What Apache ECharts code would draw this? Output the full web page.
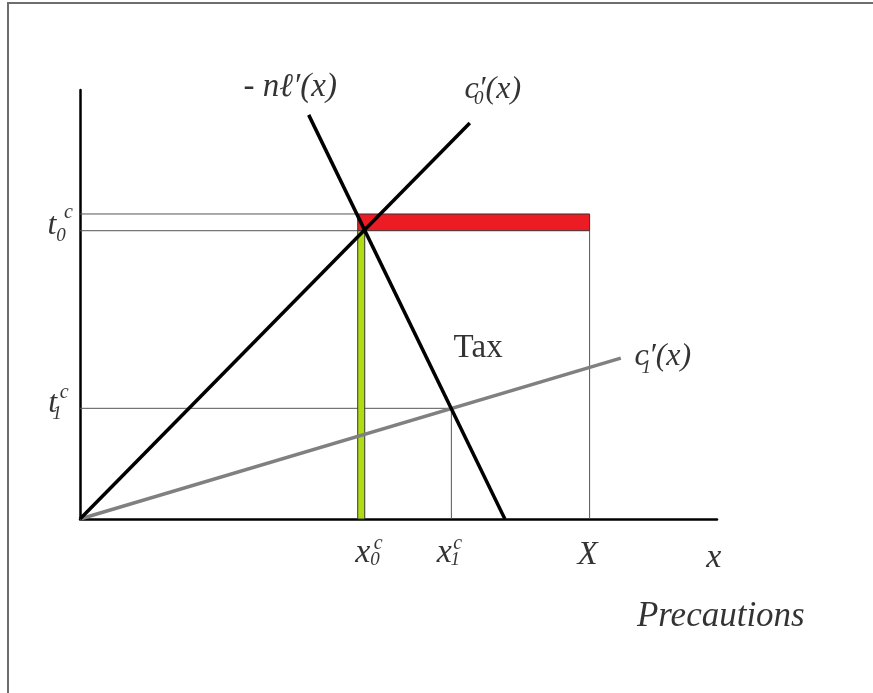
<!DOCTYPE html>
<html>
<head>
<meta charset="utf-8">
<script src="https://cdn.jsdelivr.net/npm/echarts@6/dist/echarts.min.js"></script>
<style>
  html, body { margin: 0; padding: 0; background: #fff; }
  #chart { width: 873px; height: 693px; }
</style>
</head>
<body>
<div id="chart"></div>
<script>
// curves, in diagram units (x: 0..10, y: 0..10)
const c0Line = [[0, 0], [6.12, 9.23]];
const nlLine = [[3.59, 9.42], [6.67, 0]];
const c1Line = [[0, 0], [8.49, 3.75]];

// key levels
const t0 = 6.72;
const t0Top = 7.11;
const x0Left = 4.36;
const x0 = 4.47;
const x1 = 5.83;
const t1 = 2.58;
const bigX = 8;

// rectangles: [xFrom, yFrom, xTo, yTo]
const taxRect = [x0Left, t0, bigX, t0Top];
const greenRect = [x0Left, 0, x0, t0];

// thin guide lines
const guides = [
  [[0, t0Top], [x0Left, t0Top]],
  [[0, t0], [x0Left, t0]],
  [[0, t1], [x1, t1]],
  [[x1, 0], [x1, t1]],
  [[bigX, 0], [bigX, t0]]
];

const SERIF = '"Liberation Serif", "DejaVu Serif", serif';

// text labels: [x, y, text, fontSize, italic]
const texts = [
  [3.30, 10.07, '- nℓ′(x)', 33, true],
  [6.48, 10.02, 'c′(x)', 32, true],
  [6.26, 9.78, '0', 19, true],
  [9.15, 3.78, 'c′(x)', 32, true],
  [8.89, 3.53, '1', 19, true],
  [6.25, 3.99, 'Tax', 33, false],
  [-0.44, 6.85, 't', 32, true],
  [-0.18, 7.13, 'c', 20, true],
  [-0.30, 6.60, '0', 19, true],
  [-0.43, 2.70, 't', 32, true],
  [-0.25, 2.94, 'c', 20, true],
  [-0.36, 2.45, '1', 19, true],
  [4.44, -0.80, 'x', 34, true],
  [4.68, -0.58, 'c', 20, true],
  [4.63, -0.96, '0', 19, true],
  [5.72, -0.80, 'x', 34, true],
  [5.93, -0.58, 'c', 20, true],
  [5.89, -0.96, '1', 19, true],
  [7.97, -0.84, 'X', 33, true],
  [9.95, -0.92, 'x', 34, true],
  [10.06, -2.28, 'Precautions', 35, true]
];

const chart = echarts.init(document.getElementById('chart'));

const lineSeries = (data, color, width, z) => ({
  type: 'line',
  data: data,
  symbol: 'none',
  silent: true,
  z: z,
  lineStyle: { color: color, width: width, cap: 'butt' }
});

const series = [];

guides.forEach(g => series.push(lineSeries(g, '#555', 1, 2)));

series.push({
  type: 'custom',
  z: 3,
  silent: true,
  data: [taxRect.concat(0), greenRect.concat(1)],
  renderItem: (params, api) => {
    const p0 = api.coord([api.value(0), api.value(1)]);
    const p1 = api.coord([api.value(2), api.value(3)]);
    const isGreen = api.value(4) === 1;
    return {
      type: 'rect',
      shape: {
        x: Math.min(p0[0], p1[0]),
        y: Math.min(p0[1], p1[1]),
        width: Math.abs(p1[0] - p0[0]),
        height: Math.abs(p1[1] - p0[1])
      },
      style: {
        fill: isGreen ? '#b0dc14' : '#ed1c24',
        stroke: '#333',
        lineWidth: 1
      }
    };
  }
});

series.push(lineSeries(c1Line, '#808080', 3.5, 4));
series.push(lineSeries(c0Line, '#000', 3.5, 5));
series.push(lineSeries(nlLine, '#000', 3.5, 5));

series.push({
  type: 'scatter',
  symbolSize: 0,
  silent: true,
  clip: false,
  z: 6,
  data: texts.map(t => ({
    value: [t[0], t[1]],
    label: {
      show: true,
      position: 'inside',
      formatter: t[2],
      fontFamily: SERIF,
      fontSize: t[3],
      fontStyle: t[4] ? 'italic' : 'normal',
      color: '#000',
      textBorderWidth: 0,
      align: 'center',
      verticalAlign: 'middle'
    }
  }))
});

chart.setOption({
  animation: false,
  backgroundColor: '#fff',
  grid: { left: 80, top: 90, width: 637, height: 429 },
  xAxis: {
    type: 'value',
    min: 0,
    max: 10,
    axisLine: { show: true, onZero: false, lineStyle: { color: '#000', width: 2.5 } },
    axisTick: { show: false },
    axisLabel: { show: false },
    splitLine: { show: false }
  },
  yAxis: {
    type: 'value',
    min: 0,
    max: 10,
    axisLine: { show: true, onZero: false, lineStyle: { color: '#000', width: 2.5 } },
    axisTick: { show: false },
    axisLabel: { show: false },
    splitLine: { show: false }
  },
  graphic: [{
    type: 'polyline',
    shape: { points: [[8, 693], [8, 3], [873, 3]] },
    style: { stroke: '#6d6d6d', lineWidth: 2, fill: null }
  }],
  series: series
});
</script>
</body>
</html>
